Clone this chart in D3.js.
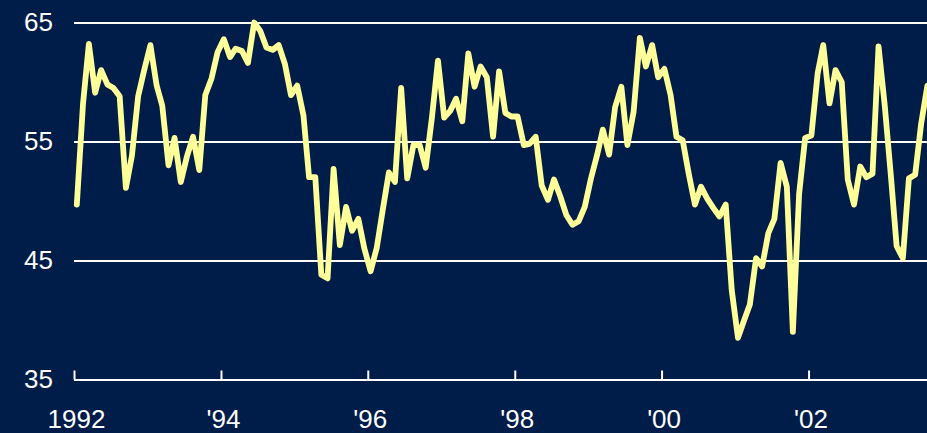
<!DOCTYPE html>
<html>
<head>
<meta charset="utf-8">
<script src="https://cdn.jsdelivr.net/npm/d3@7"></script>
<style>
  html, body { margin: 0; padding: 0; background: #001c48; }
  svg { display: block; }
  text { font-family: "Liberation Sans", Arial, sans-serif; fill: #ffffff; }
</style>
</head>
<body>
<svg id="chart" width="927" height="433"></svg>
<script>
// Monthly index readings, January 1992 through August 2003
const startYear = 1992;
const values1992 = [49.7, 58.2, 63.2, 59.1, 61.0, 59.8, 59.5, 58.8, 51.1, 53.8, 58.8, 61.0];
const values1993 = [63.1, 59.7, 58.0, 53.0, 55.3, 51.6, 53.7, 55.4, 52.6, 58.9, 60.3, 62.5];
const values1994 = [63.6, 62.1, 62.8, 62.6, 61.6, 65.0, 64.3, 62.9, 62.7, 63.1, 61.5, 58.9];
const values1995 = [59.7, 57.2, 52.0, 52.0, 43.8, 43.5, 52.7, 46.3, 49.5, 47.5, 48.5, 46.0];
const values1996 = [44.1, 46.1, 49.2, 52.4, 51.6, 59.5, 51.9, 54.7, 54.7, 52.8, 57.0, 61.8];
const values1997 = [57.0, 57.6, 58.6, 56.7, 62.4, 59.6, 61.3, 60.4, 55.4, 60.9, 57.4, 57.1];
const values1998 = [57.1, 54.7, 54.8, 55.4, 51.3, 50.1, 51.8, 50.4, 48.8, 48.0, 48.3, 49.5];
const values1999 = [51.9, 53.9, 56.0, 53.9, 57.9, 59.6, 54.7, 57.5, 63.7, 61.3, 63.1, 60.4];
const values2000 = [61.1, 58.9, 55.4, 55.1, 52.3, 49.7, 51.2, 50.2, 49.4, 48.7, 49.7, 42.5];
const values2001 = [38.5, 40.0, 41.3, 45.2, 44.5, 47.3, 48.5, 53.2, 51.2, 39.0, 50.6, 55.3];
const values2002 = [55.5, 60.7, 63.1, 58.2, 61.0, 60.0, 51.8, 49.7, 52.9, 52.0, 52.3, 63.0];
const values2003 = [58.0, 52.0, 46.2, 45.2, 51.9, 52.2, 56.5, 59.7];

const yTicks = [35, 45, 55, 65];
const xTickYears = [1992, 1994, 1996, 1998, 2000, 2002];
const xTickLabels = ["1992", "'94", "'96", "'98", "'00", "'02"];

const series = [].concat(values1992, values1993, values1994, values1995, values1996,
  values1997, values1998, values1999, values2000, values2001, values2002, values2003);
const data = series.map((v, i) => ({ date: new Date(startYear, i, 15), value: v }));

const W = 927, H = 433;
const plotLeft = 74, plotRight = 927, plotTop = 22.5, plotBottom = 379.5;

const svg = d3.select("#chart");

const x = d3.scaleTime()
  .domain([new Date(1992, 0, 1), new Date(2003, 7, 13)])
  .range([plotLeft, plotRight]);

const y = d3.scaleLinear()
  .domain([35, 65])
  .range([plotBottom, plotTop]);

// Horizontal gridlines with value labels on the left
const yAxis = svg.append("g")
  .attr("transform", `translate(${plotLeft},0)`)
  .call(d3.axisLeft(y)
    .tickValues(yTicks)
    .tickSizeInner(-(plotRight - plotLeft))
    .tickSizeOuter(0)
    .tickPadding(21)
    .tickFormat(d3.format("d")));
yAxis.select(".domain").remove();
yAxis.selectAll(".tick line")
  .attr("stroke", "#ffffff")
  .attr("stroke-width", 2);
yAxis.selectAll(".tick text")
  .attr("font-size", 26)
  .attr("fill", "#ffffff")
  .style("font-family", "'Liberation Sans', Arial, sans-serif");

// Time axis along the bottom, ticks pointing up
const xAxis = svg.append("g")
  .attr("transform", `translate(0,${plotBottom})`)
  .call(d3.axisBottom(x)
    .tickValues(xTickYears.map(yr => new Date(yr, 0, 1)))
    .tickFormat((d, i) => xTickLabels[i])
    .tickSizeInner(-9)
    .tickSizeOuter(0)
    .tickPadding(30));
xAxis.select(".domain")
  .attr("stroke", "#ffffff")
  .attr("stroke-width", 2);
xAxis.selectAll(".tick line")
  .attr("stroke", "#ffffff")
  .attr("stroke-width", 2);
xAxis.selectAll(".tick text")
  .attr("font-size", 26)
  .attr("fill", "#ffffff")
  .attr("dx", 2)
  .style("font-family", "'Liberation Sans', Arial, sans-serif");

// Index line
const line = d3.line()
  .x(d => x(d.date))
  .y(d => y(d.value));

svg.append("clipPath").attr("id", "plot-clip")
  .append("rect").attr("x", 0).attr("y", 0).attr("width", W).attr("height", H);

svg.append("path")
  .datum(data)
  .attr("clip-path", "url(#plot-clip)")
  .attr("fill", "none")
  .attr("stroke", "#ffff99")
  .attr("stroke-width", 5.8)
  .attr("stroke-linejoin", "round")
  .attr("stroke-linecap", "round")
  .attr("d", line);
</script>
</body>
</html>
